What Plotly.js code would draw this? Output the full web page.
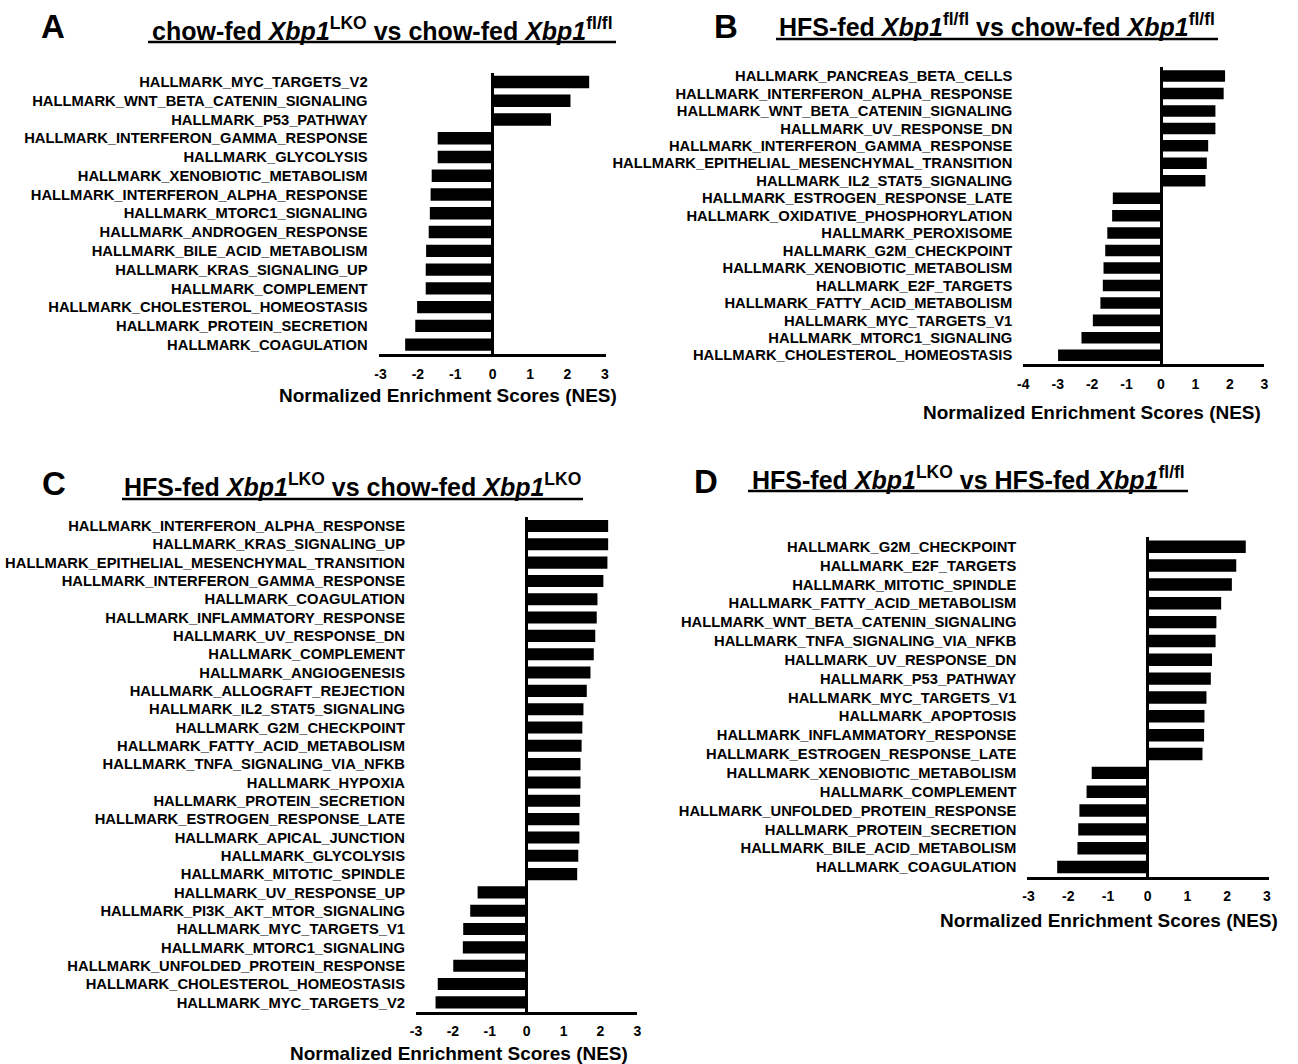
<!DOCTYPE html>
<html>
<head>
<meta charset="utf-8">
<script src="https://cdn.plot.ly/plotly-3.0.1.min.js"></script>
<style>html,body{margin:0;padding:0;background:#fff;}#chart{width:1298px;height:1064px;}</style>
</head>
<body>
<div id="chart"></div>
<script>
// ---------- DATA ----------
const labelsA = ["HALLMARK_MYC_TARGETS_V2","HALLMARK_WNT_BETA_CATENIN_SIGNALING","HALLMARK_P53_PATHWAY","HALLMARK_INTERFERON_GAMMA_RESPONSE","HALLMARK_GLYCOLYSIS","HALLMARK_XENOBIOTIC_METABOLISM","HALLMARK_INTERFERON_ALPHA_RESPONSE","HALLMARK_MTORC1_SIGNALING","HALLMARK_ANDROGEN_RESPONSE","HALLMARK_BILE_ACID_METABOLISM","HALLMARK_KRAS_SIGNALING_UP","HALLMARK_COMPLEMENT","HALLMARK_CHOLESTEROL_HOMEOSTASIS","HALLMARK_PROTEIN_SECRETION","HALLMARK_COAGULATION"];
const nesA = [2.58,2.08,1.56,-1.47,-1.47,-1.63,-1.66,-1.68,-1.71,-1.78,-1.79,-1.79,-2.02,-2.07,-2.34];

const labelsB = ["HALLMARK_PANCREAS_BETA_CELLS","HALLMARK_INTERFERON_ALPHA_RESPONSE","HALLMARK_WNT_BETA_CATENIN_SIGNALING","HALLMARK_UV_RESPONSE_DN","HALLMARK_INTERFERON_GAMMA_RESPONSE","HALLMARK_EPITHELIAL_MESENCHYMAL_TRANSITION","HALLMARK_IL2_STAT5_SIGNALING","HALLMARK_ESTROGEN_RESPONSE_LATE","HALLMARK_OXIDATIVE_PHOSPHORYLATION","HALLMARK_PEROXISOME","HALLMARK_G2M_CHECKPOINT","HALLMARK_XENOBIOTIC_METABOLISM","HALLMARK_E2F_TARGETS","HALLMARK_FATTY_ACID_METABOLISM","HALLMARK_MYC_TARGETS_V1","HALLMARK_MTORC1_SIGNALING","HALLMARK_CHOLESTEROL_HOMEOSTASIS"];
const nesB = [1.86,1.82,1.58,1.58,1.37,1.33,1.29,-1.40,-1.42,-1.56,-1.62,-1.67,-1.69,-1.76,-1.98,-2.31,-2.99];

const labelsC = ["HALLMARK_INTERFERON_ALPHA_RESPONSE","HALLMARK_KRAS_SIGNALING_UP","HALLMARK_EPITHELIAL_MESENCHYMAL_TRANSITION","HALLMARK_INTERFERON_GAMMA_RESPONSE","HALLMARK_COAGULATION","HALLMARK_INFLAMMATORY_RESPONSE","HALLMARK_UV_RESPONSE_DN","HALLMARK_COMPLEMENT","HALLMARK_ANGIOGENESIS","HALLMARK_ALLOGRAFT_REJECTION","HALLMARK_IL2_STAT5_SIGNALING","HALLMARK_G2M_CHECKPOINT","HALLMARK_FATTY_ACID_METABOLISM","HALLMARK_TNFA_SIGNALING_VIA_NFKB","HALLMARK_HYPOXIA","HALLMARK_PROTEIN_SECRETION","HALLMARK_ESTROGEN_RESPONSE_LATE","HALLMARK_APICAL_JUNCTION","HALLMARK_GLYCOLYSIS","HALLMARK_MITOTIC_SPINDLE","HALLMARK_UV_RESPONSE_UP","HALLMARK_PI3K_AKT_MTOR_SIGNALING","HALLMARK_MYC_TARGETS_V1","HALLMARK_MTORC1_SIGNALING","HALLMARK_UNFOLDED_PROTEIN_RESPONSE","HALLMARK_CHOLESTEROL_HOMEOSTASIS","HALLMARK_MYC_TARGETS_V2"];
const nesC = [2.21,2.21,2.19,2.08,1.92,1.90,1.86,1.82,1.73,1.63,1.54,1.51,1.49,1.46,1.46,1.45,1.43,1.43,1.40,1.37,-1.33,-1.53,-1.72,-1.73,-1.99,-2.41,-2.47];

const labelsD = ["HALLMARK_G2M_CHECKPOINT","HALLMARK_E2F_TARGETS","HALLMARK_MITOTIC_SPINDLE","HALLMARK_FATTY_ACID_METABOLISM","HALLMARK_WNT_BETA_CATENIN_SIGNALING","HALLMARK_TNFA_SIGNALING_VIA_NFKB","HALLMARK_UV_RESPONSE_DN","HALLMARK_P53_PATHWAY","HALLMARK_MYC_TARGETS_V1","HALLMARK_APOPTOSIS","HALLMARK_INFLAMMATORY_RESPONSE","HALLMARK_ESTROGEN_RESPONSE_LATE","HALLMARK_XENOBIOTIC_METABOLISM","HALLMARK_COMPLEMENT","HALLMARK_UNFOLDED_PROTEIN_RESPONSE","HALLMARK_PROTEIN_SECRETION","HALLMARK_BILE_ACID_METABOLISM","HALLMARK_COAGULATION"];
const nesD = [2.47,2.23,2.12,1.85,1.73,1.71,1.62,1.59,1.48,1.43,1.42,1.38,-1.41,-1.54,-1.72,-1.75,-1.77,-2.28];

const xTickVals3 = [-3,-2,-1,0,1,2,3];
const xTickText3 = ["-3","-2","-1","0","1","2","3"];
const xTickVals4 = [-4,-3,-2,-1,0,1,2,3];
const xTickText4 = ["-4","-3","-2","-1","0","1","2","3"];

const panelLetters = ["A","B","C","D"];
const panelTitles = [
  "chow-fed <i>Xbp1</i><sup>LKO</sup> vs chow-fed <i>Xbp1</i><sup>fl/fl</sup>",
  "HFS-fed <i>Xbp1</i><sup>fl/fl</sup> vs chow-fed <i>Xbp1</i><sup>fl/fl</sup>",
  "HFS-fed <i>Xbp1</i><sup>LKO</sup> vs chow-fed <i>Xbp1</i><sup>LKO</sup>",
  "HFS-fed <i>Xbp1</i><sup>LKO</sup> vs HFS-fed <i>Xbp1</i><sup>fl/fl</sup>"
];
const xAxisTitle = "Normalized Enrichment Scores (NES)";

// ---------- LAYOUT (pixel geometry) ----------
const W = 1298, H = 1064;
const FONT = "Arial, 'Liberation Sans', sans-serif";
const panels = [
  {labels: labelsA, values: nesA, tv: xTickVals3, tt: xTickText3, range: [-3.05, 3.03], px: [378.6, 606.0], py: [72.6, 354.0],
   letter: [53, 27], title: [382, 29], uline: [148, 616, 42], axTitle: [448.5, 396]},
  {labels: labelsB, values: nesB, tv: xTickVals4, tt: xTickText4, range: [-4.0, 3.0], px: [1023.3, 1264.3], py: [67.3, 364.0],
   letter: [726, 27], title: [997, 25], uline: [776, 1218, 39], axTitle: [1091.5, 413]},
  {labels: labelsC, values: nesC, tv: xTickVals3, tt: xTickText3, range: [-3.0, 3.0], px: [416.0, 637.3], py: [516.8, 1011.5],
   letter: [54, 483], title: [352.5, 485], uline: [122, 583, 499], axTitle: [459, 1053]},
  {labels: labelsD, values: nesD, tv: xTickVals3, tt: xTickText3, range: [-3.03, 3.05], px: [1027.4, 1268.8], py: [537.3, 876.5],
   letter: [706, 481], title: [968, 478], uline: [748, 1188, 491], axTitle: [1108.5, 920]}
];

const fx = p => p / W;
const fy = p => 1 - p / H;

const data = [];
const layout = {
  width: W, height: H,
  margin: {l: 0, r: 0, t: 0, b: 0},
  paper_bgcolor: "#fff", plot_bgcolor: "rgba(0,0,0,0)",
  showlegend: false,
  font: {family: FONT, color: "#000"},
  annotations: [], shapes: []
};

panels.forEach((p, i) => {
  const sfx = i === 0 ? "" : String(i + 1);
  data.push({
    type: "bar", orientation: "h",
    x: p.values, y: p.labels,
    xaxis: "x" + sfx, yaxis: "y" + sfx,
    marker: {color: "#000", line: {width: 0}},
    width: 0.66,
    hoverinfo: "x+y"
  });
  layout["xaxis" + sfx] = {
    anchor: "y" + sfx,
    domain: [fx(p.px[0]), fx(p.px[1])],
    range: p.range,
    tickmode: "array", tickvals: p.tv, ticktext: p.tt,
    showgrid: false,
    zeroline: true, zerolinecolor: "#000", zerolinewidth: 2.5,
    showline: true, linecolor: "#000", linewidth: 2.5,
    ticks: "", ticklabelstandoff: 5,
    tickfont: {family: FONT, size: 14, color: "#000", weight: "bold"},
    fixedrange: true
  };
  layout["yaxis" + sfx] = {
    anchor: "x" + sfx,
    domain: [fy(p.py[1]), fy(p.py[0])],
    type: "category",
    range: [p.labels.length - 0.5, -0.5],
    tickmode: "array", tickvals: p.labels, ticktext: p.labels,
    showgrid: false, zeroline: false, showline: false,
    ticks: "", ticklabelstandoff: 10,
    tickfont: {family: FONT, size: 14.75, color: "#000", weight: "bold"},
    fixedrange: true
  };
  layout.annotations.push({
    xref: "paper", yref: "paper", x: fx(p.letter[0]), y: fy(p.letter[1]),
    xanchor: "center", yanchor: "middle", showarrow: false,
    text: panelLetters[i], font: {family: FONT, size: 33, color: "#000", weight: "bold"}
  });
  layout.annotations.push({
    xref: "paper", yref: "paper", x: fx(p.title[0]), y: fy(p.title[1]),
    xanchor: "center", yanchor: "middle", showarrow: false,
    text: panelTitles[i], font: {family: FONT, size: 25, color: "#000", weight: "bold"}
  });
  layout.annotations.push({
    xref: "paper", yref: "paper", x: fx(p.axTitle[0]), y: fy(p.axTitle[1]),
    xanchor: "center", yanchor: "middle", showarrow: false,
    text: xAxisTitle, font: {family: FONT, size: 19, color: "#000", weight: "bold"}
  });
  layout.shapes.push({
    type: "line", xref: "paper", yref: "paper",
    x0: fx(p.uline[0]), x1: fx(p.uline[1]), y0: fy(p.uline[2]), y1: fy(p.uline[2]),
    line: {color: "#000", width: 2.5}
  });
});

Plotly.newPlot("chart", data, layout, {displayModeBar: false, staticPlot: false});
</script>
</body>
</html>
